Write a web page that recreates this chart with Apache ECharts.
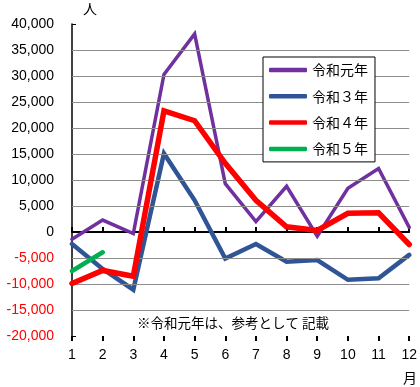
<!DOCTYPE html>
<html><head><meta charset="utf-8">
<script src="https://cdn.jsdelivr.net/npm/echarts@6/dist/echarts.min.js"></script>
<style>html,body{margin:0;padding:0;background:#fff}#c{width:420px;height:387px}</style>
</head><body><div id="c"></div>
<script>
var months = ['1','2','3','4','5','6','7','8','9','10','11','12'];
var seriesNames = ['令和元年','令和３年','令和４年','令和５年'];
var r1 = [-1400, 2300, -300, 30300, 38100, 9300, 2000, 8800, -800, 8400, 12200, 900];
var r3 = [-2300, -7100, -11100, 15100, 6100, -5100, -2300, -5700, -5400, -9200, -8900, -4400];
var r4 = [-9900, -7400, -8500, 23300, 21400, 13200, 6100, 1000, 300, 3600, 3700, -2400];
var r5 = [-7500, -3900];
var gridValues = [35000, 30000, 25000, 20000, 15000, 10000, 5000, -5000, -10000, -15000];
var yMin = -20000, yMax = 40000, yStep = 5000;
var note = '※令和元年は、参考として 記載';

var FONT = 'Liberation Sans';
var colors = ['#7030A0', '#2F5597', '#FF0000', '#00B050'];
var widths = [3.5, 4.5, 5.5, 4.5];
var datas = [r1, r3, r4, r5];

var chart = echarts.init(document.getElementById('c'), null, {renderer: 'canvas'});
var series = datas.map(function (d, i) {
  return {
    name: seriesNames[i], type: 'line', data: d, xAxisIndex: 0, yAxisIndex: 0,
    symbol: 'none', showSymbol: false, smooth: false, z: 3 + i,
    lineStyle: {color: colors[i], width: widths[i], cap: 'round', join: 'miter'},
    itemStyle: {color: colors[i]}, animation: false
  };
});
series.unshift({
  type: 'line', name: '_grid', data: [], xAxisIndex: 0, yAxisIndex: 0, z: 1, silent: true, animation: false,
  markLine: {
    silent: true, symbol: ['none', 'none'], animation: false, label: {show: false},
    lineStyle: {color: '#8c8c8c', width: 1, type: 'solid'},
    data: gridValues.map(function (v) { return {yAxis: v}; })
  }
});

chart.setOption({
  animation: false,
  backgroundColor: '#fff',
  grid: {left: 72, right: 10, top: 24, bottom: 51, containLabel: false},
  legend: {
    data: seriesNames, orient: 'vertical', left: 263, top: 57,
    backgroundColor: '#fff', borderColor: '#000', borderWidth: 1, borderRadius: 0,
    padding: [6, 7, 6, 6], itemWidth: 38, itemHeight: 4.5, itemGap: 12.3,
    icon: 'roundRect',
    textStyle: {fontFamily: 'Noto Sans CJK JP', fontSize: 14, color: '#000', lineHeight: 14},
    z: 10
  },
  xAxis: [
    {type: 'category', data: months, boundaryGap: false, position: 'bottom',
     axisLine: {show: false, onZero: false}, axisTick: {show: false}, splitLine: {show: false},
     axisLabel: {fontFamily: FONT, fontSize: 14, color: '#000', margin: 12, interval: 0}},
    {type: 'category', data: months, boundaryGap: false, position: 'bottom',
     axisLine: {show: true, onZero: true, lineStyle: {color: '#000', width: 2}},
     axisTick: {show: true, inside: true, length: 5, interval: 0, lineStyle: {color: '#000', width: 2}},
     axisLabel: {show: false}, splitLine: {show: false}},
    {type: 'category', data: months, boundaryGap: false, position: 'bottom',
     axisLine: {show: false, onZero: true},
     axisTick: {show: true, inside: false, length: 5, interval: 0, lineStyle: {color: '#000', width: 2}},
     axisLabel: {show: false}, splitLine: {show: false}}
  ],
  yAxis: {
    type: 'value', min: yMin, max: yMax, interval: yStep,
    axisLine: {show: true, lineStyle: {color: '#000', width: 1.5}},
    axisTick: {show: true, inside: true, length: 4, lineStyle: {color: '#000', width: 1}},
    splitLine: {show: false},
    axisLabel: {
      fontFamily: FONT, fontSize: 14, margin: 18,
      color: function (v) { return Number(v) < 0 ? '#FF0000' : '#000'; },
      formatter: function (v) { return v.toLocaleString('en-US'); }
    }
  },
  graphic: [
    {type: 'text', left: 83, top: 2, style: {text: '人', font: '14px "Noto Sans CJK JP"', fill: '#000'}},
    {type: 'text', left: 403, top: 371, style: {text: '月', font: '14px "Noto Sans CJK JP"', fill: '#000'}},
    {type: 'text', left: 137, top: 316, style: {text: note, font: '13.5px "Noto Sans CJK JP"', fill: '#000'}}
  ],
  series: series
});
</script></body></html>
